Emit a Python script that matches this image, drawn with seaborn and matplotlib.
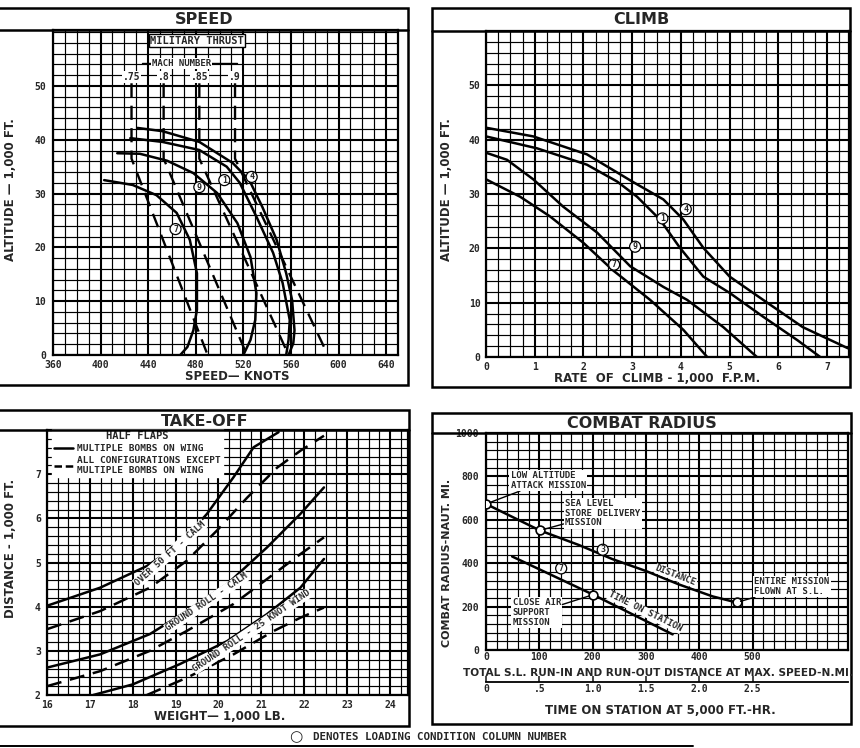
import numpy as np
import pandas as pd
import matplotlib
matplotlib.use("Agg")
import matplotlib.pyplot as plt
import seaborn as sns
from matplotlib.lines import Line2D
from matplotlib.patches import Rectangle

# ---------------- SPEED (military thrust) ----------------
speed_1 = [425, 452, 483, 506, 517, 531, 545, 553, 559, 558, 556]
alt_1 = [40.3, 39.6, 38.1, 35.0, 32.0, 25.7, 19.0, 13.4, 6.5, 2.8, 0]
speed_4 = [431, 452, 483, 511, 525, 536, 548, 556, 561, 563, 562, 558]
alt_4 = [42.2, 41.6, 39.6, 35.7, 32.5, 27.5, 21.4, 15.2, 10.2, 4.6, 2.2, 0]
speed_7 = [403, 427, 447, 464, 475, 481, 481, 478, 473, 467]
alt_7 = [32.5, 31.6, 29.7, 26.4, 21.4, 15.2, 8.4, 4.6, 1.5, 0]
speed_9 = [414, 433, 456, 478, 498, 515, 526, 531, 530, 526, 520]
alt_9 = [37.5, 37.4, 36.1, 33.8, 30.1, 24.5, 18.2, 11.5, 6.5, 2.8, 0]
speed_tags = ["4", "1", "9", "7"]
speed_tag_x = [527, 504, 483, 463]
speed_tag_y = [33.1, 32.5, 31.2, 23.4]

mach_labels = [".75", ".8", ".85", ".9"]
mach_strat_speed = [426, 453, 483, 513]
mach_sl_speed = [490, 523, 558, 591]
mach_top_alt = 50.5
tropopause_alt = 36.5

# ---------------- CLIMB ----------------
rate_4 = [0, 0.97, 2.07, 3.0, 3.64, 4.05, 4.46, 5.0, 5.69, 6.5, 7.43]
climb_alt_4 = [42.2, 40.6, 37.3, 32.3, 29.0, 25.3, 20.1, 14.8, 10.5, 5.5, 1.6]
rate_1 = [0, 1.05, 2.07, 2.69, 3.1, 3.57, 3.98, 4.46, 5.0, 5.69, 6.39, 6.86]
climb_alt_1 = [40.6, 38.4, 35.4, 32.3, 29.5, 25.3, 20.1, 14.8, 11.8, 7.4, 3.1, 0]
rate_9 = [0, 0.43, 0.97, 1.58, 2.28, 2.96, 3.64, 4.13, 4.87, 5.56]
climb_alt_9 = [37.6, 36.3, 32.7, 27.7, 22.9, 16.7, 12.9, 10.5, 5.5, 0]
rate_7 = [0, 0.7, 1.31, 2.0, 2.6, 3.37, 4.05, 4.54]
climb_alt_7 = [32.7, 29.5, 25.9, 21.0, 16.0, 10.5, 5.0, 0]
climb_tags = ["4", "1", "9", "7"]
climb_tag_x = [4.1, 3.62, 3.06, 2.63]
climb_tag_y = [27.2, 25.5, 20.3, 17.0]

# ---------------- TAKE-OFF ----------------
w_over_solid = [16.0, 17.24, 18.33, 19.1, 19.73, 20.35, 20.82, 21.4]
d_over_solid = [4.02, 4.43, 4.92, 5.42, 6.1, 6.93, 7.61, 7.95]
w_over_dash = [16.0, 17.24, 18.4, 19.26, 19.96, 20.67, 21.37, 21.91, 22.46]
d_over_dash = [3.49, 3.9, 4.43, 5.04, 5.72, 6.47, 7.15, 7.53, 7.87]
w_ground_solid = [16.0, 17.24, 18.4, 19.26, 20.2, 21.13, 21.91, 22.46]
d_ground_solid = [2.62, 2.92, 3.38, 3.9, 4.51, 5.34, 6.1, 6.7]
w_ground_dash = [16.0, 17.24, 18.4, 19.26, 20.35, 21.29, 21.91, 22.46]
d_ground_dash = [2.2, 2.54, 3.0, 3.45, 4.06, 4.74, 5.19, 5.57]
w_wind_solid = [17.08, 18.0, 19.1, 20.2, 21.13, 21.91, 22.46]
d_wind_solid = [2.0, 2.24, 2.7, 3.22, 3.83, 4.43, 5.08]
w_wind_dash = [18.33, 19.26, 20.35, 21.29, 21.91, 22.46]
d_wind_dash = [2.0, 2.39, 2.92, 3.45, 3.75, 3.98]
takeoff_names = ["OVER 50 FT - CALM", "GROUND ROLL - CALM", "GROUND ROLL - 25 KNOT WIND"]
takeoff_name_x = [18.87, 19.73, 20.78]
takeoff_name_y = [5.2, 4.1, 3.45]
takeoff_name_rot = [42, 34, 34]

# ---------------- COMBAT RADIUS ----------------
dist_run = [0, 101, 174, 237, 300, 362, 425, 470]
dist_radius = [673, 551, 484, 419, 364, 302, 247, 219]
station_hr = [0.245, 1.005, 1.75]
station_radius = [431, 255, 72]
mission_names = ["LOW ALTITUDE\nATTACK MISSION", "SEA LEVEL\nSTORE DELIVERY\nMISSION",
                 "ENTIRE MISSION\nFLOWN AT S.L.", "CLOSE AIR\nSUPPORT\nMISSION"]
mission_x = [0, 101, 470, 201]
mission_y = [673, 551, 219, 255]
mission_text_x = [46, 148, 503, 50]
mission_text_y = [782, 630, 293, 172]
HR_TO_NMI = 200.0

sns.set_style("white")
plt.rcParams["font.family"] = ["DejaVu Sans"]
plt.rcParams["font.weight"] = "bold"
plt.rcParams["axes.linewidth"] = 1.6
plt.rcParams["axes.edgecolor"] = "black"

W, H = 860, 748
fig = plt.figure(figsize=(8.6, 7.48), dpi=100)
MONO = "DejaVu Sans Mono"


def px_axes(x0, y0, x1, y1):
    return fig.add_axes([x0 / W, 1 - y1 / H, (x1 - x0) / W, (y1 - y0) / H])


def frame(x0, y0, x1, y1, band_y, title, title_y):
    fig.add_artist(Rectangle((x0 / W, 1 - y1 / H), (x1 - x0) / W, (y1 - y0) / H,
                             transform=fig.transFigure, fill=False, lw=1.8, ec="k"))
    fig.add_artist(Line2D([x0 / W, x1 / W], [1 - band_y / H] * 2,
                          transform=fig.transFigure, lw=1.8, color="k"))
    fig.text((max(x0, 0) + x1) / 2 / W, 1 - title_y / H, title, ha="center", va="center",
             fontsize=11.5, fontweight="bold")


def chart_grid(ax, xlim, ylim, xmaj, xminor, ymaj, yminor, xlabels, ylabels, ypad=4):
    ax.set_xlim(xlim)
    ax.set_ylim(ylim)
    ax.set_xticks(xmaj)
    ax.set_xticklabels(xlabels)
    ax.set_yticks(ymaj)
    ax.set_yticklabels(ylabels)
    ax.set_xticks(xminor, minor=True)
    ax.set_yticks(yminor, minor=True)
    ax.grid(which="major", color="k", lw=1.5)
    ax.grid(which="minor", color="k", lw=0.85)
    ax.set_axisbelow(True)
    ax.tick_params(which="both", length=0, labelsize=7)
    ax.tick_params(axis="x", pad=3.5)
    ax.tick_params(axis="y", pad=ypad)
    for lab in ax.get_xticklabels() + ax.get_yticklabels():
        lab.set_fontfamily(MONO)
        lab.set_fontweight("bold")
    ax.set_xlabel("")
    ax.set_ylabel("")


def tag(ax, x, y, s):
    ax.text(x, y, s, ha="center", va="center", fontsize=6, family=MONO, zorder=6,
            bbox=dict(boxstyle="circle,pad=0.12", fc="white", ec="k", lw=0.9))


# ======== SPEED ========
frame(-3, 8, 408, 385, 30, "SPEED", 19)
ax = px_axes(53, 30, 398, 355)
speed_df = pd.concat([
    pd.DataFrame({"speed": speed_1, "alt": alt_1, "cond": "1"}),
    pd.DataFrame({"speed": speed_4, "alt": alt_4, "cond": "4"}),
    pd.DataFrame({"speed": speed_7, "alt": alt_7, "cond": "7"}),
    pd.DataFrame({"speed": speed_9, "alt": alt_9, "cond": "9"}),
])
sns.lineplot(data=speed_df, x="speed", y="alt", units="cond", estimator=None, sort=False,
             color="k", lw=1.8, ax=ax, legend=False, zorder=4)
for lab, s_top, s_sl in zip(mach_labels, mach_strat_speed, mach_sl_speed):
    sns.lineplot(x=[s_top, s_top, s_sl], y=[mach_top_alt, tropopause_alt, 0], sort=False,
                 estimator=None, color="k", lw=1.7, linestyle=(0, (6, 3.5)), ax=ax, zorder=3)
    ax.text(s_top, mach_top_alt + 1.2, lab, ha="center", va="center", fontsize=7,
            family=MONO, zorder=5, bbox=dict(boxstyle="square,pad=0.1", fc="white", ec="none"))
ax.plot([mach_strat_speed[0] + 9, mach_strat_speed[-1] + 2], [54.2, 54.2], color="k", lw=1, zorder=4)
ax.text(468, 54.2, "MACH NUMBER", ha="center", va="center", fontsize=6.5, family=MONO, zorder=5,
        bbox=dict(boxstyle="square,pad=0.15", fc="white", ec="none"))
ax.text(481, 58.4, "MILITARY THRUST", ha="center", va="center", fontsize=7.5, family=MONO, zorder=5,
        bbox=dict(boxstyle="square,pad=0.15", fc="white", ec="k", lw=1))
for s, x, y in zip(speed_tags, speed_tag_x, speed_tag_y):
    tag(ax, x, y, s)
chart_grid(ax, (360, 650), (0, 60.4), np.arange(360, 641, 40), np.arange(360, 651, 10),
           np.arange(0, 51, 10), np.arange(0, 61, 2),
           [str(v) for v in range(360, 641, 40)], [str(v) for v in range(0, 51, 10)], ypad=5)
fig.text(237 / W, 1 - 377 / H, "SPEED\u2014 KNOTS", ha="center", va="center", fontsize=8.5)
fig.text(11 / W, 1 - 190 / H, "ALTITUDE \u2014 1,000 FT.", ha="center", va="center",
         rotation=90, fontsize=8.5)

# ======== CLIMB ========
frame(432, 8, 850, 387, 31, "CLIMB", 19)
ax = px_axes(486, 31, 849, 357)
climb_df = pd.concat([
    pd.DataFrame({"rate": rate_4, "alt": climb_alt_4, "cond": "4"}),
    pd.DataFrame({"rate": rate_1, "alt": climb_alt_1, "cond": "1"}),
    pd.DataFrame({"rate": rate_9, "alt": climb_alt_9, "cond": "9"}),
    pd.DataFrame({"rate": rate_7, "alt": climb_alt_7, "cond": "7"}),
])
sns.lineplot(data=climb_df, x="rate", y="alt", units="cond", estimator=None, sort=False,
             color="k", lw=1.8, ax=ax, legend=False, zorder=4)
for s, x, y in zip(climb_tags, climb_tag_x, climb_tag_y):
    tag(ax, x, y, s)
chart_grid(ax, (0, 7.45), (0, 60), np.arange(0, 8), np.arange(0, 7.5, 0.25),
           np.arange(0, 51, 10), np.arange(0, 61, 2),
           [str(v) for v in range(0, 8)], [str(v) for v in range(0, 51, 10)])
fig.text(657 / W, 1 - 379 / H, "RATE  OF  CLIMB - 1,000  F.P.M.", ha="center", va="center",
         fontsize=8.5)
fig.text(446 / W, 1 - 190 / H, "ALTITUDE \u2014 1,000 FT.", ha="center", va="center",
         rotation=90, fontsize=8.5)

# ======== TAKE-OFF ========
frame(-3, 410, 409, 726, 430, "TAKE-OFF", 421)
ax = px_axes(47, 430, 408, 695)
take_df = pd.concat([
    pd.DataFrame({"w": w_over_solid, "d": d_over_solid, "curve": "a", "cfg": "solid"}),
    pd.DataFrame({"w": w_over_dash, "d": d_over_dash, "curve": "b", "cfg": "dash"}),
    pd.DataFrame({"w": w_ground_solid, "d": d_ground_solid, "curve": "c", "cfg": "solid"}),
    pd.DataFrame({"w": w_ground_dash, "d": d_ground_dash, "curve": "d", "cfg": "dash"}),
    pd.DataFrame({"w": w_wind_solid, "d": d_wind_solid, "curve": "e", "cfg": "solid"}),
    pd.DataFrame({"w": w_wind_dash, "d": d_wind_dash, "curve": "f", "cfg": "dash"}),
])
for cfg, ls in [("solid", "-"), ("dash", (0, (6, 3.5)))]:
    sub = take_df[take_df["cfg"] == cfg]
    sns.lineplot(data=sub, x="w", y="d", units="curve", estimator=None, sort=False,
                 color="k", lw=1.8, linestyle=ls, ax=ax, legend=False, zorder=4)
for name, x, y, r in zip(takeoff_names, takeoff_name_x, takeoff_name_y, takeoff_name_rot):
    ax.text(x, y, name, ha="center", va="center", rotation=r, rotation_mode="anchor",
            fontsize=6.5, family=MONO, zorder=5,
            bbox=dict(boxstyle="square,pad=0.1", fc="white", ec="none"))
handles = [Line2D([], [], color="k", lw=1.8),
           Line2D([], [], color="k", lw=1.8, linestyle=(0, (3, 1.5)))]
leg = ax.legend(handles, ["MULTIPLE BOMBS ON WING", "ALL CONFIGURATIONS EXCEPT\nMULTIPLE BOMBS ON WING"],
                title="HALF FLAPS", loc="upper left", bbox_to_anchor=(0.0, 1.02), frameon=True,
                fancybox=False, framealpha=1, edgecolor="white", borderpad=0.2,
                handlelength=2.0, handletextpad=0.5, labelspacing=0.3,
                prop={"family": MONO, "size": 6.8, "weight": "bold"})
leg.get_title().set_fontfamily(MONO)
leg.get_title().set_fontsize(7.5)
leg.get_title().set_fontweight("bold")
leg.set_zorder(6)
chart_grid(ax, (16, 24.42), (2, 7.98), np.arange(16, 25), np.arange(16, 24.5, 0.25),
           np.arange(2, 8), np.arange(2, 8.01, 0.2),
           [str(v) for v in range(16, 25)], [str(v) for v in range(2, 8)], ypad=4.5)
fig.text(220 / W, 1 - 717 / H, "WEIGHT\u2014 1,000 LB.", ha="center", va="center", fontsize=8.5)
fig.text(11 / W, 1 - 548 / H, "DISTANCE - 1,000 FT.", ha="center", va="center",
         rotation=90, fontsize=8.5)

# ======== COMBAT RADIUS ========
frame(432, 413, 851, 724, 433, "COMBAT RADIUS", 423)
ax = px_axes(486, 433, 848, 650)
combat_df = pd.concat([
    pd.DataFrame({"run": dist_run, "radius": dist_radius, "line": "distance"}),
    pd.DataFrame({"run": [h * HR_TO_NMI for h in station_hr], "radius": station_radius,
                  "line": "time"}),
])
sns.lineplot(data=combat_df, x="run", y="radius", units="line", estimator=None, sort=False,
             color="k", lw=1.8, ax=ax, legend=False, zorder=4)
sns.scatterplot(x=mission_x, y=mission_y, s=40, facecolor="white", edgecolor="k",
                linewidth=1.2, ax=ax, zorder=5)
for name, px, py, tx, ty in zip(mission_names, mission_x, mission_y, mission_text_x, mission_text_y):
    ax.annotate(name, xy=(px, py), xytext=(tx, ty), ha="left", va="center",
                fontsize=6.5, family=MONO, linespacing=1.1, zorder=6,
                bbox=dict(boxstyle="square,pad=0.15", fc="white", ec="none"),
                arrowprops=dict(arrowstyle="-", color="k", lw=1, shrinkA=0, shrinkB=3))
tag(ax, 219, 462, "3")
tag(ax, 141, 376, "7")
ax.text(356, 342, "DISTANCE", ha="center", va="center", rotation=-21, fontsize=6.5,
        family=MONO, zorder=5, bbox=dict(boxstyle="square,pad=0.05", fc="white", ec="none"))
ax.text(298, 176, "TIME ON STATION", ha="center", va="center", rotation=-26, fontsize=6.5,
        family=MONO, zorder=5, bbox=dict(boxstyle="square,pad=0.05", fc="white", ec="none"))
chart_grid(ax, (0, 679), (0, 1000), np.arange(0, 501, 100), np.arange(0, 680, 20),
           np.arange(0, 1001, 200), np.arange(0, 1001, 40),
           [str(v) for v in range(0, 501, 100)], [str(v) for v in range(0, 1001, 200)], ypad=5)
ax.tick_params(axis="x", pad=1.5)
sec = ax.secondary_xaxis(-0.146, functions=(lambda x: x / HR_TO_NMI, lambda h: h * HR_TO_NMI))
sec.set_xticks([0, 0.5, 1.0, 1.5, 2.0, 2.5])
sec.set_xticklabels(["0", ".5", "1.0", "1.5", "2.0", "2.5"])
sec.tick_params(direction="in", length=4, width=1.2, labelsize=7, pad=2)
sec.spines["bottom"].set_linewidth(1.3)
for lab in sec.get_xticklabels():
    lab.set_fontfamily(MONO)
    lab.set_fontweight("bold")
fig.text(658 / W, 1 - 673 / H, "TOTAL S.L. RUN-IN AND RUN-OUT DISTANCE AT MAX. SPEED-N.MI.",
         ha="center", va="center", fontsize=7.6)
fig.text(660 / W, 1 - 710 / H, "TIME ON STATION AT 5,000 FT.-HR.", ha="center", va="center",
         fontsize=8.5)
fig.text(447 / W, 1 - 563 / H, "COMBAT RADIUS-NAUT. MI.", ha="center", va="center",
         rotation=90, fontsize=8)

# footnote
fig.text(296 / W, 1 - 737 / H, "\u25cb", ha="center", va="center", fontsize=11)
fig.text(313 / W, 1 - 737 / H, "DENOTES LOADING CONDITION COLUMN NUMBER", ha="left",
         va="center", fontsize=7.8, family=MONO)
fig.add_artist(Line2D([0, 693 / W], [1 - 746 / H] * 2, transform=fig.transFigure, lw=1.4, color="k"))

fig.savefig("out.png", dpi=100)
